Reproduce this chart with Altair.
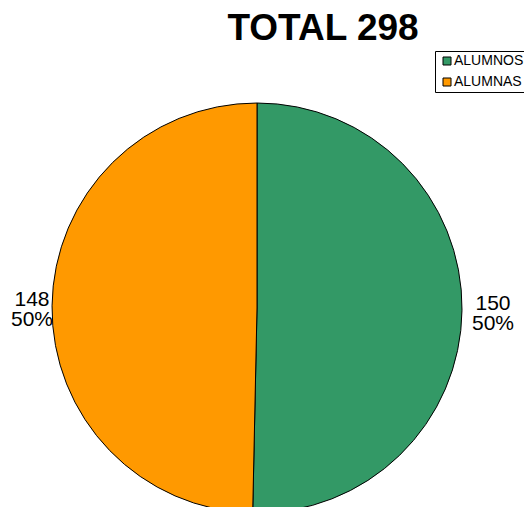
import altair as alt
import pandas as pd

categories = ["ALUMNOS", "ALUMNAS"]
values = [150, 148]
percents = ["50%", "50%"]
colors = ["#339966", "#FF9900"]
title_text = "TOTAL 298"

df = pd.DataFrame({
    "cat": categories,
    "val": values,
    "pct": percents,
    "order": list(range(len(categories))),
})
df["label"] = df["val"].astype(str) + "\n" + df["pct"]

CX, CY, R = 249, 300, 205
FONT = "Liberation Sans"

base = alt.Chart(df).encode(
    theta=alt.Theta("val:Q", stack=True),
    order=alt.Order("order:Q"),
)

pie = base.mark_arc(outerRadius=R, stroke="black", strokeWidth=1).encode(
    x=alt.value(CX),
    y=alt.value(CY),
    color=alt.Color(
        "cat:N",
        scale=alt.Scale(domain=categories, range=colors),
        sort=categories,
        legend=alt.Legend(
            title=None,
            orient="none",
            legendX=427,
            legendY=43,
            symbolType="square",
            symbolSize=64,
            symbolStrokeColor="black",
            symbolStrokeWidth=1,
            labelFont=FONT,
            labelFontSize=14,
            labelColor="black",
            strokeColor="black",
            padding=3,
            rowPadding=7,
            symbolOffset=2,
            labelOffset=0,
        ),
    ),
)


def label_layer(cat, radius):
    return base.mark_text(
        radius=radius, font=FONT, fontSize=21, lineBreak="\n", lineHeight=20,
        align="center", baseline="middle", dy=-6, color="black",
    ).encode(
        x=alt.value(CX),
        y=alt.value(CY),
        text=alt.condition(f"datum.cat == '{cat}'", "label:N", alt.value("")),
    )


labels_right = label_layer(categories[0], 236)
labels_left = label_layer(categories[1], 225)

title = alt.Chart(pd.DataFrame({"t": [title_text]})).mark_text(
    font=FONT, fontSize=37, fontWeight="bold", align="center",
    baseline="alphabetic", color="black",
).encode(x=alt.value(315), y=alt.value(32), text="t:N")

chart = alt.layer(pie, labels_right, labels_left, title).properties(
    width=516, height=499,
    autosize=alt.AutoSizeParams(type="none"),
    padding=0,
).configure_view(stroke=None)

chart.save("out.html", embed_options={"renderer": "svg", "actions": False})
